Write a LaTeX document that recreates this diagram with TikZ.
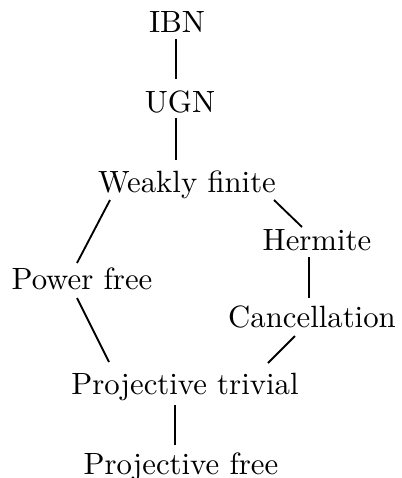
\documentclass[tikz,border=0pt]{standalone}
\usepackage{tikz}
\usetikzlibrary{calc}

\tikzset{
    lbl/.style={anchor=base, inner sep=0pt},
    hasse/.style={line width=0.6pt}
}

\begin{document}
\begin{tikzpicture}[x=0.325pt, y=-0.325pt]
            \path[use as bounding box] (0,0) rectangle (401,478);

            \node[lbl] (ibn)   at (177,32)  {IBN};
            \node[lbl] (ugn)   at (180,112) {UGN};
            \node[lbl] (wf)    at (187,192) {Weakly finite};
            \node[lbl] (herm)  at (317,250) {Hermite};
            \node[lbl] (pf)    at (82,289)  {Power free};
            \node[lbl] (canc)  at (312,327) {Cancellation};
            \node[lbl] (pt)    at (185,394) {Projective trivial};
            \node[lbl] (pfree) at (181,474) {Projective free};

            \draw[hasse] ([shift={(-1,7)}]ibn.base) -- ([shift={(-4,-33)}]ugn.base);
            \draw[hasse] ([shift={(-4,6)}]ugn.base) -- ([shift={(-11,-32)}]wf.base);
            \draw[hasse] ([shift={(-77,8)}]wf.base) -- ([shift={(-5,-26)}]pf.base);
            \draw[hasse] ([shift={(87,8)}]wf.base) -- ([shift={(-15,-23)}]herm.base);
            \draw[hasse] ([shift={(-8,7)}]herm.base) -- ([shift={(-3,-29)}]canc.base);
            \draw[hasse] ([shift={(-5,9)}]pf.base) -- ([shift={(-76,-32)}]pt.base);
            \draw[hasse] ([shift={(-17,9)}]canc.base) -- ([shift={(83,-31)}]pt.base);
            \draw[hasse] ([shift={(-10,11)}]pt.base) -- ([shift={(-6,-29)}]pfree.base);
        \end{tikzpicture}
\end{document}
